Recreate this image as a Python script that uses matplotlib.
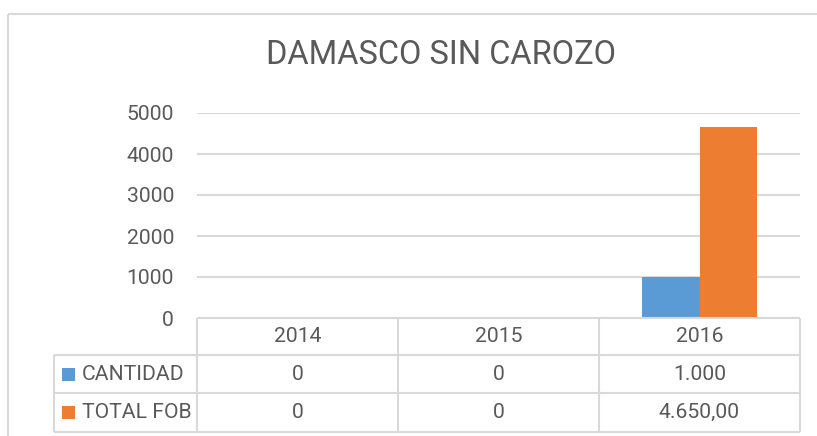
import matplotlib
matplotlib.use("Agg")
import matplotlib.pyplot as plt
from matplotlib.lines import Line2D
from matplotlib.patches import Rectangle
import numpy as np

# ---- data ----
title = "DAMASCO SIN CAROZO"
years = ["2014", "2015", "2016"]
series_names = ["CANTIDAD", "TOTAL FOB"]
cantidad = [0, 0, 1000]
total_fob = [0, 0, 4650]
y_ticks = [0, 1000, 2000, 3000, 4000, 5000]

colors = ["#5B9BD5", "#ED7D31"]
grid_c = "#D9D9D9"
text_c = "#595959"

W, H = 817, 436
plt.rcParams['font.family'] = ['Roboto', 'DejaVu Sans']

fig = plt.figure(figsize=(W / 100, H / 100), dpi=100)
fig.patch.set_facecolor("white")


def fx(x):
    return x / W


def fy(y):
    return 1 - y / H


def hline(y, x0, x1, lw=1.5, c=grid_c):
    fig.add_artist(Line2D([fx(x0), fx(x1)], [fy(y), fy(y)], transform=fig.transFigure,
                          color=c, lw=lw, solid_capstyle='butt'))


def vline(x, y0, y1, lw=1.5, c=grid_c):
    fig.add_artist(Line2D([fx(x), fx(x)], [fy(y0), fy(y1)], transform=fig.transFigure,
                          color=c, lw=lw, solid_capstyle='butt'))


# outer chart border
hline(14, 8, W + 5, lw=1.5)
vline(8, 14, H + 5, lw=1.5)

# plot area (pixels)
L, R, T, B = 197, 800, 113, 318
ax = fig.add_axes([fx(L), fy(B), (R - L) / W, (B - T) / H])
ax.set_xlim(0, 3)
ax.set_ylim(0, 5000)
for s in ax.spines.values():
    s.set_visible(False)
ax.set_facecolor("none")
ax.set_yticks(y_ticks)
ax.set_yticklabels([str(v) for v in y_ticks])
fs = 15.2
ax.tick_params(axis='y', length=0, pad=16.5, labelsize=fs, labelcolor=text_c)
ax.set_xticks([])
ax.yaxis.grid(True, color=grid_c, lw=1.5)
ax.set_axisbelow(True)

x = np.arange(len(years)) + 0.5
w = 0.284
ax.bar(x - w / 2, cantidad, w, color=colors[0], zorder=3)
ax.bar(x + w / 2, total_fob, w, color=colors[1], zorder=3)

# title
fig.text(fx(441), fy(55), title, ha='center', va='center', fontsize=23.5,
         fontweight='normal', color=text_c)

# data table
rows_y = [318, 355, 393, 432]
cols_x = [197, 398, 599, 800]
tbl_left = 54
hline(rows_y[0], cols_x[0], cols_x[-1])
for yy in rows_y[1:]:
    hline(yy, tbl_left, cols_x[-1])
vline(tbl_left, rows_y[1], rows_y[-1])
for xx in cols_x:
    vline(xx, rows_y[0], rows_y[-1])


def fmt_cant(v):
    return "0" if v == 0 else f"{v:,.0f}".replace(",", ".")


def fmt_fob(v):
    if v == 0:
        return "0"
    s = f"{v:,.2f}"
    return s.replace(",", "X").replace(".", ",").replace("X", ".")


centers = [(cols_x[i] + cols_x[i + 1]) / 2 for i in range(3)]
hdr_y = (rows_y[0] + rows_y[1]) / 2
for cx, yr in zip(centers, years):
    fig.text(fx(cx), fy(hdr_y), yr, ha='center', va='center', fontsize=fs, color=text_c)

row_vals = [[fmt_cant(v) for v in cantidad], [fmt_fob(v) for v in total_fob]]
for r in range(2):
    ry = (rows_y[r + 1] + rows_y[r + 2]) / 2
    fig.add_artist(Rectangle((fx(62), fy(ry + 6.5)), 13 / W, 13 / H,
                             transform=fig.transFigure, color=colors[r], lw=0))
    fig.text(fx(82), fy(ry), series_names[r], ha='left', va='center', fontsize=fs, color=text_c)
    for cx, v in zip(centers, row_vals[r]):
        fig.text(fx(cx), fy(ry), v, ha='center', va='center', fontsize=fs, color=text_c)

fig.savefig("out.png", dpi=100, facecolor="white")
